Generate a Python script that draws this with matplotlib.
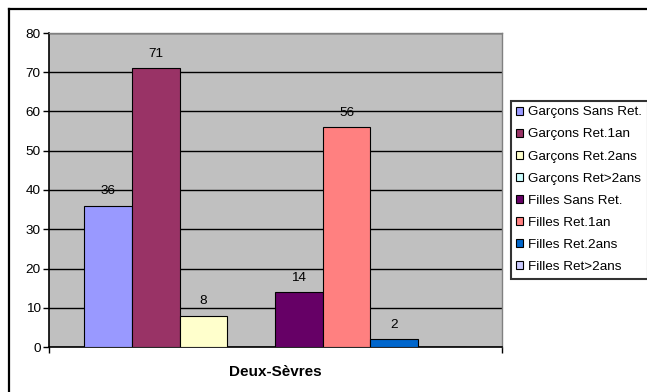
import numpy as np
import matplotlib
matplotlib.use("Agg")
import matplotlib.pyplot as plt
from matplotlib.patches import Patch
from matplotlib.lines import Line2D

plt.rcParams['font.family'] = ['Liberation Sans', 'DejaVu Sans']

# data
series = ['Garçons Sans Ret.', 'Garçons Ret.1an', 'Garçons Ret.2ans', 'Garçons Ret>2ans',
          'Filles Sans Ret.', 'Filles Ret.1an', 'Filles Ret.2ans', 'Filles Ret>2ans']
values = [36, 71, 8, 0, 14, 56, 2, 0]
colors = ['#9999FF', '#993366', '#FFFFCC', '#CCFFFF',
          '#660066', '#FF8080', '#0066CC', '#CCCCFF']
category = 'Deux-Sèvres'

W, H = 647, 392
fig = plt.figure(figsize=(W / 100, H / 100), dpi=100)

# plot area in pixels
left, top, right, bottom = 49, 33, 502, 347
ax = fig.add_axes([left / W, 1 - bottom / H, (right - left) / W, (bottom - top) / H])
ax.set_facecolor('#C0C0C0')

x = np.arange(len(values))
ax.bar(x, values, width=1.0, color=colors, edgecolor='black', linewidth=0.8, zorder=3)

for xi, v in zip(x, values):
    if v > 0:
        ax.annotate(str(v), (xi, v), xytext=(0, 6), textcoords='offset points',
                    ha='center', va='bottom', fontsize=9.7, zorder=4)

ax.set_ylim(0, 80)
ax.set_yticks(range(0, 81, 10))
xmin, xmax = -1.24, 8.26
ax.set_xlim(xmin, xmax)
ax.set_xticks([xmin, xmax])
ax.set_xticklabels(['', ''])
ax.tick_params(axis='both', direction='out', length=4, width=1, colors='black',
               labelsize=9.7, pad=2)
ax.yaxis.grid(True, color='black', linewidth=1.0, zorder=0)
ax.set_axisbelow(True)

for s in ['left', 'bottom']:
    ax.spines[s].set_color('black')
    ax.spines[s].set_linewidth(1.2)
for s in ['top', 'right']:
    ax.spines[s].set_color('#808080')
    ax.spines[s].set_linewidth(1.0)

ax.set_xlabel(category, fontsize=11, fontweight='bold', labelpad=7)

handles = [Patch(facecolor=c, edgecolor='black', linewidth=0.8) for c in colors]
leg = fig.legend(handles, series, loc='upper left',
                 bbox_to_anchor=(511 / W, 1 - 101 / H), fontsize=9.7,
                 frameon=True, fancybox=False, handlelength=0.52, handleheight=0.52,
                 handletextpad=0.37, labelspacing=0.75, borderpad=0.4,
                 borderaxespad=0)
leg.get_frame().set_edgecolor('black')
leg.get_frame().set_linewidth(1.5)

# outer chart border (left and top visible)
fig.add_artist(Line2D([8.5 / W, 8.5 / W], [0, 1 - 8.5 / H], color='black', linewidth=1.6))
fig.add_artist(Line2D([8.5 / W, 1], [1 - 8.5 / H, 1 - 8.5 / H], color='black', linewidth=1.6))

fig.savefig('out.png', dpi=100)
